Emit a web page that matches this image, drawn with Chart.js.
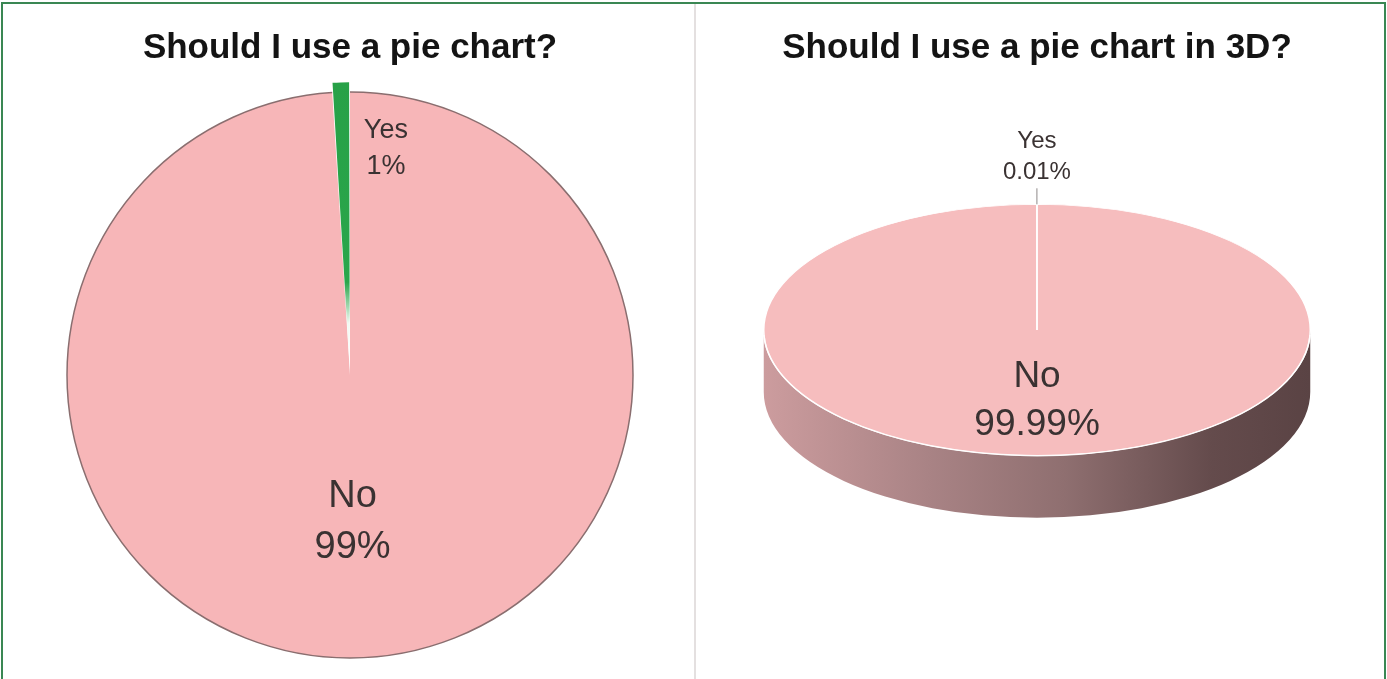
<!DOCTYPE html>
<html>
<head>
<meta charset="utf-8">
<title>Should I use a pie chart?</title>
<script src="https://cdn.jsdelivr.net/npm/chart.js@4.4.1/dist/chart.umd.min.js"></script>
<style>
  html, body { margin: 0; padding: 0; background: #fff; }
  #frame { position: relative; width: 1387px; height: 679px; overflow: hidden; background: #fff; }
  #flatBox { position: absolute; left: 0; top: 0; }
  #tiltBox { position: absolute; left: 696px; top: 0; }
  #divider { position: absolute; left: 694px; top: 4px; width: 2px; height: 675px; background: #e4e0e0; }
  #border { position: absolute; left: 1px; top: 2px; right: 1px; bottom: -4px; border: 2px solid #3a8753; pointer-events: none; }
</style>
</head>
<body>
<div id="frame">
  <canvas id="flatBox" width="694" height="679"></canvas>
  <div id="divider"></div>
  <canvas id="tiltBox" width="691" height="679"></canvas>
  <div id="border"></div>
</div>
<script>
// answers and shares (percent)
const flatTitle = 'Should I use a pie chart?';
const flatLabels = ['No', 'Yes'];
const flatValues = [99, 1];

const tiltTitle = 'Should I use a pie chart in 3D?';
const tiltLabels = ['No', 'Yes'];
const tiltValues = [99.99, 0.01];

const pink = '#f7b6b8';
const pinkTop = '#f6bdbe';
const green = '#2aa64b';
const textColor = '#3a3232';

Chart.defaults.font.family = '"Liberation Sans", Arial, sans-serif';

// green slice fades to white towards the centre
function yesFill(c) {
  if (c.dataIndex !== 1) return pink;
  const area = c.chart.chartArea;
  if (!area) return green;
  const cx = (area.left + area.right) / 2;
  const cy = (area.top + area.bottom) / 2;
  const r = Math.min(area.width, area.height) / 2;
  const g = c.chart.ctx.createRadialGradient(cx, cy, 0, cx, cy, r);
  g.addColorStop(0, '#ffffff');
  g.addColorStop(0.16, '#f2faf3');
  g.addColorStop(0.3, green);
  g.addColorStop(1, '#27a147');
  return g;
}

// dark outline round the big slice only
const rimOutline = {
  id: 'rimOutline',
  afterDatasetsDraw(chart) {
    const arc = chart.getDatasetMeta(0).data[0];
    const ctx = chart.ctx;
    ctx.save();
    ctx.beginPath();
    ctx.arc(arc.x, arc.y, arc.outerRadius, arc.startAngle, arc.endAngle);
    ctx.strokeStyle = '#8a6e6f';
    ctx.lineWidth = 1.5;
    ctx.stroke();
    ctx.restore();
  }
};

// squash the pie into an ellipse and give it a side wall
const tiltPie = {
  id: 'tiltPie',
  beforeDatasetsDraw(chart, args, opts) {
    const arc = chart.getDatasetMeta(0).data[0];
    const ctx = chart.ctx;
    const x = arc.x, r = arc.outerRadius;
    const cy = arc.y + opts.lift;
    const ry = r * opts.tilt;

    const wall = ctx.createLinearGradient(x - r, 0, x + r, 0);
    wall.addColorStop(0, '#cc9c9e');
    wall.addColorStop(0.3, '#a98385');
    wall.addColorStop(0.55, '#8f6f70');
    wall.addColorStop(0.82, '#644b4c');
    wall.addColorStop(1, '#5a4344');
    ctx.save();
    ctx.beginPath();
    ctx.ellipse(x, cy, r, ry, 0, 0, Math.PI);
    ctx.ellipse(x, cy + opts.depth, r, ry, 0, Math.PI, 0, true);
    ctx.closePath();
    ctx.fillStyle = wall;
    ctx.fill();
    ctx.restore();

    ctx.save();
    ctx.translate(0, cy);
    ctx.scale(1, opts.tilt);
    ctx.translate(0, -arc.y);
  },
  afterDatasetsDraw(chart, args, opts) {
    const ctx = chart.ctx;
    ctx.restore();
    const arc = chart.getDatasetMeta(0).data[0];
    ctx.save();
    ctx.beginPath();
    ctx.ellipse(arc.x, arc.y + opts.lift, arc.outerRadius, arc.outerRadius * opts.tilt, 0, 0.04, Math.PI - 0.04);
    ctx.strokeStyle = 'rgba(255,255,255,0.9)';
    ctx.lineWidth = 1.5;
    ctx.stroke();
    ctx.restore();
  }
};

// "label / value%" text for each slice
function sliceLabels(styles, tilt, lift) {
  return {
    id: 'sliceLabels',
    afterDraw(chart) {
      const ctx = chart.ctx;
      const meta = chart.getDatasetMeta(0);
      const values = chart.data.datasets[0].data;
      ctx.save();
      ctx.fillStyle = textColor;
      ctx.textAlign = 'center';
      ctx.textBaseline = 'middle';
      meta.data.forEach((arc, i) => {
        const s = styles[i];
        const mid = (arc.startAngle + arc.endAngle) / 2;
        const rr = arc.outerRadius * s.at;
        const px = arc.x + Math.cos(mid) * rr + s.dx;
        const py = arc.y + lift + Math.sin(mid) * rr * tilt;
        const lines = [chart.data.labels[i], values[i] + '%'];
        let top;
        if (s.lead) {
          ctx.beginPath();
          ctx.moveTo(px, py);
          ctx.lineTo(px, py - s.lead);
          ctx.strokeStyle = '#8f8a8a';
          ctx.lineWidth = 1;
          ctx.stroke();
          top = py - s.lead - 16 - s.gap * (lines.length - 1);
        } else {
          top = py - s.gap * (lines.length - 1) / 2;
        }
        ctx.font = s.size + 'px "Liberation Sans", Arial, sans-serif';
        lines.forEach((t, k) => ctx.fillText(t, px, top + k * s.gap));
      });
      ctx.restore();
    }
  };
}

const titleFont = { size: 35, weight: 'bold' };

new Chart(document.getElementById('flatBox'), {
  type: 'pie',
  data: {
    labels: flatLabels,
    datasets: [{
      data: flatValues,
      backgroundColor: yesFill,
      borderWidth: 0,
      hoverOffset: 0,
      offset: [0, 20]
    }]
  },
  options: {
    responsive: false,
    animation: false,
    events: [],
    layout: { padding: { left: 57, right: 51, top: 16, bottom: 11 } },
    plugins: {
      legend: { display: false },
      tooltip: { enabled: false },
      title: { display: true, text: flatTitle, color: '#141414', font: titleFont, padding: { top: 11, bottom: 13 } }
    }
  },
  plugins: [rimOutline, sliceLabels([
    { at: 0.52, dx: -2, size: 38, gap: 51 },
    { at: 0.8, dx: 43, size: 27, gap: 36 }
  ], 1, 0)]
});

new Chart(document.getElementById('tiltBox'), {
  type: 'pie',
  data: {
    labels: tiltLabels,
    datasets: [{
      data: tiltValues,
      backgroundColor: pinkTop,
      borderColor: '#ffffff',
      borderWidth: 1.5,
      hoverOffset: 0,
      hoverBorderWidth: 1.5
    }]
  },
  options: {
    responsive: false,
    animation: false,
    events: [],
    layout: { padding: { left: 67, right: 76, top: 16, bottom: 55 } },
    plugins: {
      legend: { display: false },
      tooltip: { enabled: false },
      title: { display: true, text: tiltTitle, color: '#141414', font: titleFont, padding: { top: 11, bottom: 7 } },
      tiltPie: { tilt: 0.46, depth: 62, lift: -20 }
    }
  },
  plugins: [tiltPie, sliceLabels([
    { at: 0.56, dx: 0, size: 37, gap: 48 },
    { at: 1, dx: 0, size: 24, gap: 31, lead: 16 }
  ], 0.46, -20)]
});
</script>
</body>
</html>
